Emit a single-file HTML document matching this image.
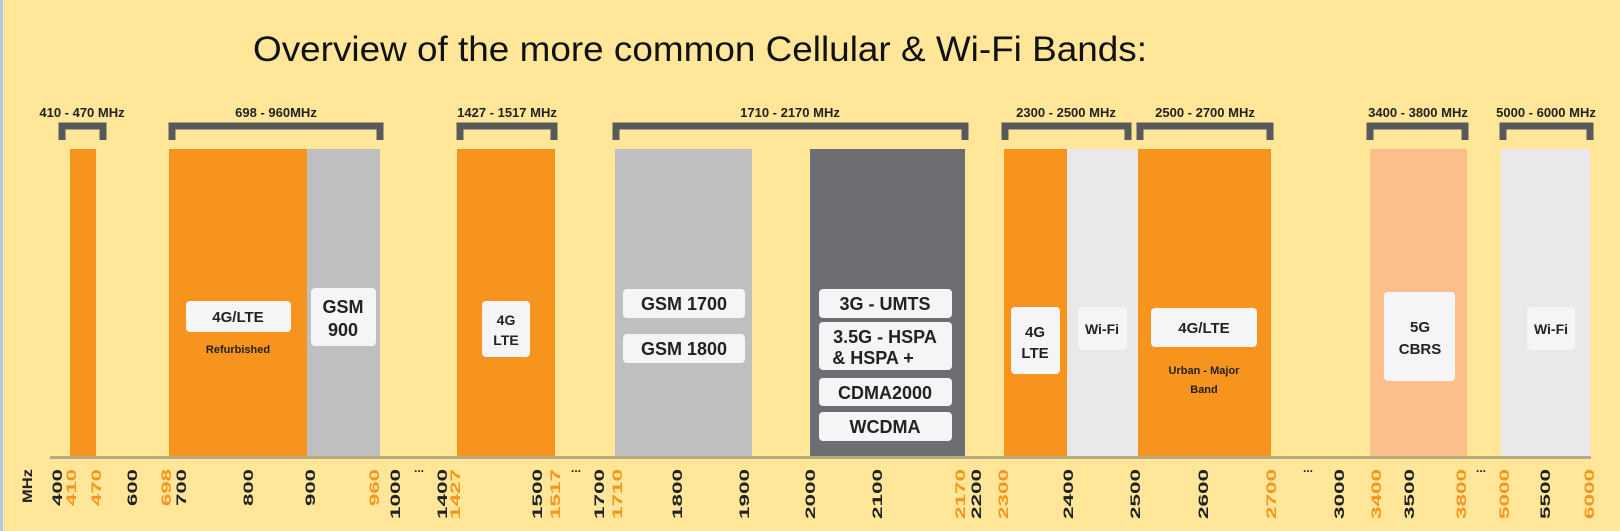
<!DOCTYPE html>
<html><head><meta charset="utf-8"><style>
html,body{margin:0;padding:0;background:#FFE699;}
svg{display:block;}
</style></head><body>
<svg width="1620" height="531" xmlns="http://www.w3.org/2000/svg" font-family="Liberation Sans, sans-serif">
<rect width="1620" height="531" fill="#FFE699"/>
<rect x="0" y="0" width="3" height="531" fill="#B4C7E7"/>
<text x="700" y="61" font-size="35" text-anchor="middle" fill="#111" textLength="894" lengthAdjust="spacingAndGlyphs">Overview of the more common Cellular &amp; Wi-Fi Bands:</text>
<g fill="#F7941D">
<rect x="70" y="149" width="26" height="309"/>
<rect x="169" y="149" width="138" height="309"/>
<rect x="457" y="149" width="98" height="309"/>
<rect x="1004" y="149" width="63" height="309"/>
<rect x="1138" y="149" width="133" height="309"/>
</g>
<rect x="307" y="149" width="73" height="309" fill="#BFBFC1"/>
<rect x="615" y="149" width="137" height="309" fill="#BFBFC1"/>
<rect x="810" y="149" width="155" height="309" fill="#6D6E71"/>
<rect x="1067" y="149" width="71" height="309" fill="#E9E9EC"/>
<rect x="1370" y="149" width="97" height="309" fill="#FBC08A"/>
<rect x="1501" y="149" width="89" height="309" fill="#E9E9EC"/>
<rect x="50" y="456" width="1541" height="3" fill="#B8AA80"/>
<g fill="none" stroke="#58595B" stroke-width="7">
<path d="M62 140V126H103V140"/>
<path d="M172 140V126H380V140"/>
<path d="M460 140V126H554V140"/>
<path d="M616 140V126H965V140"/>
<path d="M1005 140V126H1128V140"/>
<path d="M1140 140V126H1270V140"/>
<path d="M1370 140V126H1465V140"/>
<path d="M1503 140V126H1590V140"/>
</g>
<g font-size="13" font-weight="bold" text-anchor="middle" fill="#222">
<text x="82" y="117">410 - 470 MHz</text>
<text x="276" y="117">698 - 960MHz</text>
<text x="507" y="117">1427 - 1517 MHz</text>
<text x="790" y="117">1710 - 2170 MHz</text>
<text x="1066" y="117">2300 - 2500 MHz</text>
<text x="1205" y="117">2500 - 2700 MHz</text>
<text x="1418" y="117">3400 - 3800 MHz</text>
<text x="1546" y="117">5000 - 6000 MHz</text>
</g>
<g fill="#F5F5F7">
<rect x="186" y="301" width="105" height="31" rx="4"/>
<rect x="311" y="288" width="65" height="58" rx="4"/>
<rect x="482" y="301" width="48" height="56" rx="4"/>
<rect x="623" y="289" width="122" height="29" rx="4"/>
<rect x="623" y="334" width="122" height="29" rx="4"/>
<rect x="819" y="289" width="133" height="29" rx="4"/>
<rect x="819" y="322" width="133" height="48" rx="4"/>
<rect x="819" y="378" width="133" height="28" rx="4"/>
<rect x="819" y="412" width="133" height="29" rx="4"/>
<rect x="1011" y="307" width="49" height="67" rx="4"/>
<rect x="1078" y="307" width="49" height="43" rx="4"/>
<rect x="1151" y="308" width="106" height="39" rx="4"/>
<rect x="1384" y="292" width="71" height="89" rx="4"/>
<rect x="1527" y="307" width="48" height="43" rx="4"/>
</g>
<g font-weight="bold" text-anchor="middle" fill="#222">
<text x="238" y="322" font-size="15">4G/LTE</text>
<text x="238" y="353" font-size="11">Refurbished</text>
<text x="343" y="313" font-size="18">GSM</text>
<text x="343" y="336" font-size="18">900</text>
<text x="506" y="325" font-size="14">4G</text>
<text x="506" y="345" font-size="14">LTE</text>
<text x="684" y="310" font-size="18">GSM 1700</text>
<text x="684" y="355" font-size="18">GSM 1800</text>
<text x="885" y="310" font-size="18">3G - UMTS</text>
<text x="885" y="343" font-size="18">3.5G - HSPA</text>
<text x="873" y="364" font-size="18">&amp; HSPA +</text>
<text x="885" y="399" font-size="18">CDMA2000</text>
<text x="885" y="433" font-size="18">WCDMA</text>
<text x="1035" y="337" font-size="15">4G</text>
<text x="1035" y="358" font-size="15">LTE</text>
<text x="1102" y="334" font-size="14">Wi-Fi</text>
<text x="1204" y="333" font-size="15">4G/LTE</text>
<text x="1204" y="374" font-size="11">Urban - Major</text>
<text x="1204" y="393" font-size="11">Band</text>
<text x="1420" y="332" font-size="15">5G</text>
<text x="1420" y="354" font-size="15">CBRS</text>
<text x="1551" y="334" font-size="14">Wi-Fi</text>
</g>
<g font-size="14" font-weight="bold" text-anchor="end">
<text transform="translate(32,469) rotate(-90)" fill="#222" textLength="34" lengthAdjust="spacingAndGlyphs">MHz</text>
<text transform="translate(62,469) rotate(-90)" fill="#222" textLength="37" lengthAdjust="spacingAndGlyphs">400</text>
<text transform="translate(76,469) rotate(-90)" fill="#F7941D" textLength="37" lengthAdjust="spacingAndGlyphs">410</text>
<text transform="translate(101,469) rotate(-90)" fill="#F7941D" textLength="37" lengthAdjust="spacingAndGlyphs">470</text>
<text transform="translate(137,469) rotate(-90)" fill="#222" textLength="37" lengthAdjust="spacingAndGlyphs">600</text>
<text transform="translate(171,469) rotate(-90)" fill="#F7941D" textLength="37" lengthAdjust="spacingAndGlyphs">698</text>
<text transform="translate(186,469) rotate(-90)" fill="#222" textLength="37" lengthAdjust="spacingAndGlyphs">700</text>
<text transform="translate(253,469) rotate(-90)" fill="#222" textLength="37" lengthAdjust="spacingAndGlyphs">800</text>
<text transform="translate(315,469) rotate(-90)" fill="#222" textLength="37" lengthAdjust="spacingAndGlyphs">900</text>
<text transform="translate(379,469) rotate(-90)" fill="#F7941D" textLength="37" lengthAdjust="spacingAndGlyphs">960</text>
<text transform="translate(400,469) rotate(-90)" fill="#222" textLength="50" lengthAdjust="spacingAndGlyphs">1000</text>
<text transform="translate(447,469) rotate(-90)" fill="#222" textLength="50" lengthAdjust="spacingAndGlyphs">1400</text>
<text transform="translate(460,469) rotate(-90)" fill="#F7941D" textLength="50" lengthAdjust="spacingAndGlyphs">1427</text>
<text transform="translate(542,469) rotate(-90)" fill="#222" textLength="50" lengthAdjust="spacingAndGlyphs">1500</text>
<text transform="translate(560,469) rotate(-90)" fill="#F7941D" textLength="50" lengthAdjust="spacingAndGlyphs">1517</text>
<text transform="translate(604,469) rotate(-90)" fill="#222" textLength="50" lengthAdjust="spacingAndGlyphs">1700</text>
<text transform="translate(622,469) rotate(-90)" fill="#F7941D" textLength="50" lengthAdjust="spacingAndGlyphs">1710</text>
<text transform="translate(682,469) rotate(-90)" fill="#222" textLength="50" lengthAdjust="spacingAndGlyphs">1800</text>
<text transform="translate(749,469) rotate(-90)" fill="#222" textLength="50" lengthAdjust="spacingAndGlyphs">1900</text>
<text transform="translate(815,469) rotate(-90)" fill="#222" textLength="50" lengthAdjust="spacingAndGlyphs">2000</text>
<text transform="translate(882,469) rotate(-90)" fill="#222" textLength="50" lengthAdjust="spacingAndGlyphs">2100</text>
<text transform="translate(965,469) rotate(-90)" fill="#F7941D" textLength="50" lengthAdjust="spacingAndGlyphs">2170</text>
<text transform="translate(981,469) rotate(-90)" fill="#222" textLength="50" lengthAdjust="spacingAndGlyphs">2200</text>
<text transform="translate(1008,469) rotate(-90)" fill="#F7941D" textLength="50" lengthAdjust="spacingAndGlyphs">2300</text>
<text transform="translate(1073,469) rotate(-90)" fill="#222" textLength="50" lengthAdjust="spacingAndGlyphs">2400</text>
<text transform="translate(1140,469) rotate(-90)" fill="#222" textLength="50" lengthAdjust="spacingAndGlyphs">2500</text>
<text transform="translate(1208,469) rotate(-90)" fill="#222" textLength="50" lengthAdjust="spacingAndGlyphs">2600</text>
<text transform="translate(1276,469) rotate(-90)" fill="#F7941D" textLength="50" lengthAdjust="spacingAndGlyphs">2700</text>
<text transform="translate(1344,469) rotate(-90)" fill="#222" textLength="50" lengthAdjust="spacingAndGlyphs">3000</text>
<text transform="translate(1381,469) rotate(-90)" fill="#F7941D" textLength="50" lengthAdjust="spacingAndGlyphs">3400</text>
<text transform="translate(1414,469) rotate(-90)" fill="#222" textLength="50" lengthAdjust="spacingAndGlyphs">3500</text>
<text transform="translate(1466,469) rotate(-90)" fill="#F7941D" textLength="50" lengthAdjust="spacingAndGlyphs">3800</text>
<text transform="translate(1509,469) rotate(-90)" fill="#F7941D" textLength="50" lengthAdjust="spacingAndGlyphs">5000</text>
<text transform="translate(1550,469) rotate(-90)" fill="#222" textLength="50" lengthAdjust="spacingAndGlyphs">5500</text>
<text transform="translate(1594,469) rotate(-90)" fill="#F7941D" textLength="50" lengthAdjust="spacingAndGlyphs">6000</text>
</g>
<g font-size="12" font-weight="bold" fill="#222" text-anchor="middle">
<text x="419" y="472">...</text>
<text x="576" y="472">...</text>
<text x="1308" y="472">...</text>
<text x="1481" y="472">...</text>
</g>
</svg>
</body></html>
